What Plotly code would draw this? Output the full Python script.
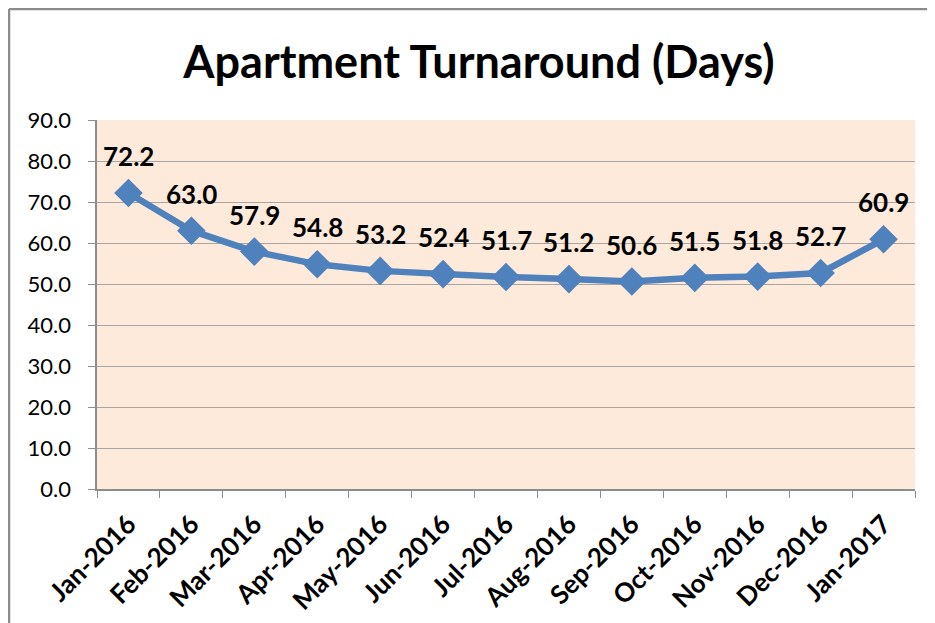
import plotly.graph_objects as go

months = ["Jan-2016", "Feb-2016", "Mar-2016", "Apr-2016", "May-2016", "Jun-2016",
          "Jul-2016", "Aug-2016", "Sep-2016", "Oct-2016", "Nov-2016", "Dec-2016", "Jan-2017"]
days = [72.2, 63.0, 57.9, 54.8, 53.2, 52.4, 51.7, 51.2, 50.6, 51.5, 51.8, 52.7, 60.9]
y_ticks = [0, 10, 20, 30, 40, 50, 60, 70, 80, 90]

FONT = "Lato"
BLUE = "#4F81BD"

W, H = 927, 615
ML, MR, MT, MB = 89, 20, 112, 134
PW, PH = W - ML - MR, H - MT - MB

fig = go.Figure()
fig.add_trace(go.Scatter(
    x=months, y=days, mode="lines+markers",
    line=dict(color=BLUE, width=6.5),
    marker=dict(symbol="diamond", size=22, color=BLUE),
    hoverinfo="x+y", showlegend=False,
))

for m, v in zip(months, days):
    fig.add_annotation(x=m, y=v, text=f"{v:.1f}", showarrow=False, yshift=37,
                       font=dict(family=FONT, size=26, color="black", weight="bold"))

pad = "<span style='color:rgba(0,0,0,0)'>0</span>"

# page body has an 8px margin, so the figure is sized/offset accordingly
fig.update_layout(
    width=W, height=H,
    margin=dict(l=ML, r=MR, t=MT, b=MB, autoexpand=False),
    paper_bgcolor="white",
    plot_bgcolor="#FDEADA",
    title=dict(text="<b>Apartment Turnaround (Days)</b>", x=0.508, xanchor="center",
               y=1 - 54 / H, yanchor="middle", yref="container",
               font=dict(family=FONT, size=45, color="black")),
    xaxis=dict(
        type="category", range=[-0.5, 12.5], tickson="boundaries",
        ticks="outside", ticklen=7, tickcolor="#8C8C8C",
        showline=True, linecolor="#8C8C8C", linewidth=1.5,
        showgrid=False, tickangle=-45, ticklabelstandoff=8,
        tickfont=dict(family=FONT, size=26, color="black", weight="bold"),
    ),
    yaxis=dict(
        range=[0, 90], tickvals=y_ticks, ticktext=[f"{t:.1f}{pad}" for t in y_ticks],
        ticks="outside", ticklen=7, tickcolor="#8C8C8C",
        showline=True, linecolor="#8C8C8C", linewidth=1.5,
        showgrid=True, gridcolor="#A6A6A6", gridwidth=1, zeroline=False,
        tickfont=dict(family=FONT, size=22, color="black"),
    ),
)

# outer frame: left and top edges
fx = (1 - ML) / PW
fy = (MT + PH - 1) / PH
fig.add_shape(type="line", xref="paper", yref="paper", x0=fx, x1=fx, y0=-MB / PH, y1=fy,
              line=dict(color="#8C8C8C", width=2.5))
fig.add_shape(type="line", xref="paper", yref="paper", x0=fx, x1=1 + MR / PW, y0=fy, y1=fy,
              line=dict(color="#8C8C8C", width=2.5))

fig.write_html("out.html")
